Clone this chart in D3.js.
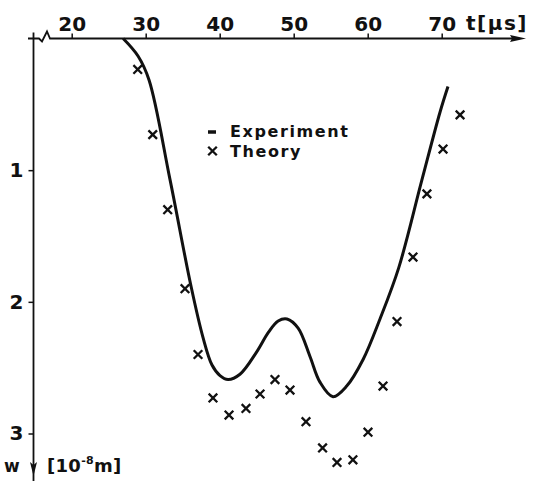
<!DOCTYPE html>
<html>
<head>
<meta charset="utf-8">
<script src="https://cdn.jsdelivr.net/npm/d3@7"></script>
<style>
  body { margin: 0; background: #fff; }
  svg { display: block; }
  text { font-family: "DejaVu Sans", sans-serif; font-weight: bold; fill: #111; }
</style>
</head>
<body>
<svg width="535" height="481"></svg>
<script>
// time in microseconds, deflection w in 1e-8 m (downwards)
var expT = [26.95, 28.96, 30.45, 33.28, 36.12, 37.74, 38.96, 40.04, 41.12, 42.74, 45.0, 46.6, 47.9, 49.1, 50.6, 52.2, 53.55, 55.31, 57.16, 59.36, 61.66, 64.2, 67.3, 69.77, 70.85];
var expW = [0.0, 0.133, 0.315, 1.07, 1.88, 2.27, 2.48, 2.56, 2.59, 2.55, 2.38, 2.23, 2.145, 2.13, 2.2, 2.415, 2.61, 2.72, 2.64, 2.44, 2.13, 1.74, 1.08, 0.56, 0.365];

var theoryT = [28.92, 30.95, 32.97, 35.31, 37.07, 39.09, 41.26, 43.55, 45.45, 47.47, 49.5, 51.66, 53.9, 55.85, 58.0, 60.04, 62.07, 63.96, 66.12, 68.0, 70.18, 72.48];
var theoryW = [0.235, 0.73, 1.30, 1.90, 2.40, 2.73, 2.86, 2.81, 2.70, 2.59, 2.67, 2.91, 3.11, 3.22, 3.20, 2.99, 2.64, 2.15, 1.66, 1.18, 0.84, 0.58];

var xTicks = [20, 30, 40, 50, 60, 70];
var yTicks = [1, 2, 3];
var legendLabels = ["Experiment", "Theory"];

var svg = d3.select("svg");

// scales (t axis on top, w grows downward)
var x = d3.scaleLinear().domain([20, 70]).range([71.7, 441.7]);
var y = d3.scaleLinear().domain([0, 3]).range([38.5, 433.5]);
var axisY = y(0), axisX = 33.5;

// top axis: own line with break zigzag and arrow
svg.append("path")
  .attr("d", "M28," + axisY + "H39L42," + (axisY + 3) + "L47," + (axisY - 7) + "L50," + axisY + "H518")
  .attr("fill", "none").attr("stroke", "#111").attr("stroke-width", 1.8);
svg.append("path")
  .attr("d", "M526," + axisY + "L510," + (axisY - 3.5) + "L512," + axisY + "L510," + (axisY + 3.5) + "Z")
  .attr("fill", "#111");

var gx = svg.append("g")
  .attr("transform", "translate(0," + axisY + ")")
  .call(d3.axisTop(x).tickValues(xTicks).tickSize(5).tickPadding(3));
gx.select(".domain").remove();
gx.selectAll(".tick line").attr("stroke", "#111").attr("stroke-width", 1.5);
gx.selectAll(".tick text")
  .style("font-size", "20px").style("font-family", "DejaVu Sans, sans-serif")
  .attr("fill", "#111");

svg.append("text")
  .attr("x", 466).attr("y", 30)
  .style("font-size", "20px").style("letter-spacing", "1.5px")
  .text("t[μs]");

// left axis: vertical line with downward arrow
svg.append("line")
  .attr("x1", axisX).attr("x2", axisX).attr("y1", axisY - 6).attr("y2", 481)
  .attr("stroke", "#111").attr("stroke-width", 1.8);
svg.append("path")
  .attr("d", "M" + axisX + ",476L" + (axisX - 3.5) + ",462L" + axisX + ",465L" + (axisX + 3.5) + ",462Z")
  .attr("fill", "#111");

var gy = svg.append("g")
  .attr("transform", "translate(" + axisX + ",0)")
  .call(d3.axisLeft(y).tickValues(yTicks).tickSize(5).tickPadding(5).tickFormat(d3.format("d")));
gy.select(".domain").remove();
gy.selectAll(".tick line").attr("stroke", "#111").attr("stroke-width", 1.5);
gy.selectAll(".tick text")
  .style("font-size", "20px").style("font-family", "DejaVu Sans, sans-serif")
  .attr("fill", "#111");

svg.append("text")
  .attr("x", 4).attr("y", 472)
  .style("font-size", "17px")
  .text("w");

var unit = svg.append("text")
  .attr("x", 47).attr("y", 472)
  .style("font-size", "18px").style("letter-spacing", "0.3px");
unit.append("tspan").text("[10");
unit.append("tspan").attr("dy", -8).style("font-size", "11px").text("-8");
unit.append("tspan").attr("dy", 8).text("m]");

// experiment curve
var expData = d3.zip(expT, expW);
var line = d3.line()
  .x(function(d) { return x(d[0]); })
  .y(function(d) { return y(d[1]); })
  .curve(d3.curveCatmullRom.alpha(0.5));

svg.append("path")
  .datum(expData)
  .attr("d", line)
  .attr("fill", "none")
  .attr("stroke", "#111")
  .attr("stroke-width", 3)
  .attr("stroke-linejoin", "round");

// theory points as x marks
var cross = d3.symbol().type(d3.symbolTimes).size(50);
svg.append("g")
  .selectAll("path")
  .data(d3.zip(theoryT, theoryW))
  .enter()
  .append("path")
  .attr("d", cross)
  .attr("transform", function(d) { return "translate(" + x(d[0]) + "," + y(d[1]) + ")"; })
  .attr("fill", "none")
  .attr("stroke", "#111")
  .attr("stroke-width", 2.3);

// legend
svg.append("line")
  .attr("x1", 208).attr("x2", 216).attr("y1", 132).attr("y2", 132)
  .attr("stroke", "#111").attr("stroke-width", 3.5);
svg.append("path")
  .attr("d", cross)
  .attr("transform", "translate(212.5,151)")
  .attr("fill", "none").attr("stroke", "#111").attr("stroke-width", 2.3);

svg.selectAll(".legend")
  .data(legendLabels)
  .enter()
  .append("text")
  .attr("class", "legend")
  .attr("x", 230)
  .attr("y", function(d, i) { return 137 + i * 20; })
  .style("font-size", "16px").style("letter-spacing", "1.6px")
  .text(function(d) { return d; });
</script>
</body>
</html>
